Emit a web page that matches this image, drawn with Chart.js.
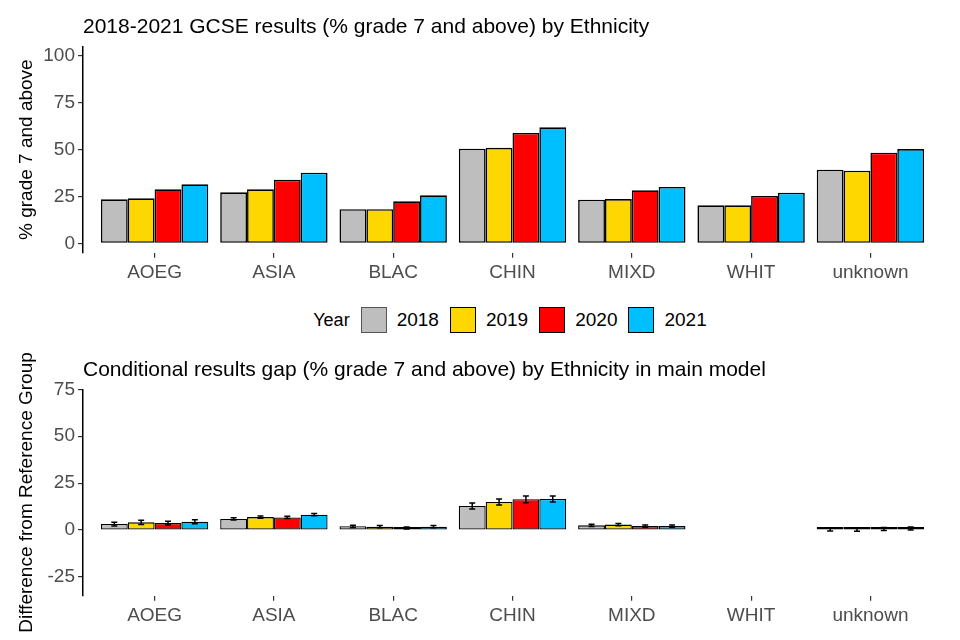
<!DOCTYPE html>
<html>
<head>
<meta charset="utf-8">
<script src="https://cdn.jsdelivr.net/npm/chart.js@4.4.1/dist/chart.umd.min.js"></script>
<style>
    html, body { margin: 0; padding: 0; background: #fff; }
    body { width: 960px; height: 640px; position: relative; overflow: hidden;
           font-family: "Liberation Sans", Arial, Helvetica, sans-serif; }
    #top-chart { position: absolute; left: 0; top: 0; }
    #gap-chart { position: absolute; left: 0; top: 340px; }
    #legend { position: absolute; left: 86px; width: 859px; top: 306px; height: 28px;
              display: flex; justify-content: center; align-items: center; font-size: 19px; color: #000; }
    #legend .title { margin-right: 11px; font-size: 18px; }
    #legend .box { width: 26px; height: 26px; border: 1.5px solid #000; box-sizing: border-box; }
    #legend .label { margin-left: 10px; margin-right: 11px; }
</style>
</head>
<body>
<canvas id="top-chart" width="960" height="300"></canvas>
<div id="legend"></div>
<canvas id="gap-chart" width="960" height="300"></canvas>
<script>
// DATA  -----------------------------------------------------------------------
const ethnicities = ['AOEG', 'ASIA', 'BLAC', 'CHIN', 'MIXD', 'WHIT', 'unknown'];
const years = ['2018', '2019', '2020', '2021'];
const yearColors = ['#BEBEBE', '#FFD700', '#FF0000', '#00BFFF'];

// % grade 7 and above
const results2018 = [23.5, 27.2, 18.2, 50.5, 23.3, 20.3, 39.3];
const results2019 = [24.0, 28.8, 18.2, 51.0, 23.6, 20.3, 38.8];
const results2020 = [28.8, 34.0, 22.4, 58.9, 28.3, 25.3, 48.4];
const results2021 = [31.5, 37.7, 25.6, 61.9, 30.1, 27.0, 50.3];

// conditional gap vs reference group (WHIT)
const gap2018 = [3.2, 5.9, 2.0, 12.8, 2.5, null, 0.3];
const gap2019 = [4.1, 6.9, 1.8, 14.9, 2.9, null, 0.1];
const gap2020 = [3.7, 6.7, 1.1, 16.4, 2.1, null, 0.5];
const gap2021 = [4.4, 8.2, 1.8, 16.5, 2.1, null, 0.8];

// half width of the error bars
const err2018 = [1.0, 0.6, 0.6, 1.6, 0.6, null, 0.8];
const err2019 = [1.1, 0.6, 0.6, 1.6, 0.6, null, 0.8];
const err2020 = [1.0, 0.6, 0.5, 1.8, 0.6, null, 0.8];
const err2021 = [1.1, 0.6, 0.6, 1.6, 0.6, null, 0.8];

const resultTicks = [0, 25, 50, 75, 100];
const gapTicks = [-25, 0, 25, 50, 75];

// CHART SETUP  -----------------------------------------------------------------
const fontFamily = '"Liberation Sans", Arial, Helvetica, sans-serif';
const tickColor = '#4D4D4D';

function buildDatasets(seriesList, errorList) {
    return seriesList.map((series, i) => ({
        label: years[i],
        data: series.map((v, j) => ({ x: j, y: v })),
        errors: errorList ? errorList[i] : null,
        backgroundColor: yearColors[i],
        borderColor: '#000000',
        borderWidth: errorList ? 1.3 : 1.6,
        borderSkipped: false,
        inflateAmount: 0,
        minBarLength: errorList ? 3 : 0,
        categoryPercentage: 0.9,
        barPercentage: 1.0
    }));
}

// Draws the panel title lined up with the left edge of the plot area
const panelTitle = {
    id: 'panelTitle',
    afterDraw(chart, args, opts) {
        const ctx = chart.ctx;
        ctx.save();
        ctx.font = '21px ' + fontFamily;
        ctx.fillStyle = '#000';
        ctx.textBaseline = 'alphabetic';
        ctx.textAlign = 'left';
        ctx.fillText(opts.text, chart.chartArea.left, chart.chartArea.top - 13.8);
        ctx.restore();
    }
};

// Error bars for the gap chart
const errorBars = {
    id: 'errorBars',
    afterDatasetsDraw(chart) {
        const ctx = chart.ctx;
        const yScale = chart.scales.y;
        ctx.save();
        ctx.strokeStyle = '#000';
        ctx.lineWidth = 1.5;
        chart.data.datasets.forEach((ds, i) => {
            if (!ds.errors) return;
            const meta = chart.getDatasetMeta(i);
            meta.data.forEach((bar, j) => {
                const v = ds.data[j].y;
                const e = ds.errors[j];
                if (v === null || e === null) return;
                const yTop = yScale.getPixelForValue(v + e);
                const yBot = yScale.getPixelForValue(v - e);
                ctx.beginPath();
                ctx.moveTo(bar.x, yTop);
                ctx.lineTo(bar.x, yBot);
                ctx.moveTo(bar.x - 3, yTop);
                ctx.lineTo(bar.x + 3, yTop);
                ctx.moveTo(bar.x - 3, yBot);
                ctx.lineTo(bar.x + 3, yBot);
                ctx.stroke();
            });
        });
        ctx.restore();
    }
};

function makeOptions(titleText, yTitle, yMin, yMax, yTickList, topPad, xAxisHeight) {
    return {
        responsive: false,
        animation: false,
        events: [],
        layout: { padding: { top: topPad, right: 18, left: 0, bottom: 0 } },
        scales: {
            x: {
                type: 'linear',
                min: -0.6,
                max: 6.6,
                offset: false,
                afterBuildTicks: s => { s.ticks = ethnicities.map((c, i) => ({ value: i })); },
                afterFit: s => { s.height = xAxisHeight; },
                ticks: {
                    autoSkip: false,
                    maxRotation: 0,
                    padding: 4,
                    color: tickColor,
                    font: { family: fontFamily, size: 19 },
                    callback: v => ethnicities[v]
                },
                grid: {
                    offset: false,
                    drawOnChartArea: false,
                    drawTicks: true,
                    tickLength: 5,
                    color: '#333333',
                    tickColor: '#333333',
                    lineWidth: 1.2
                },
                border: { display: false }
            },
            y: {
                min: yMin,
                max: yMax,
                afterBuildTicks: s => { s.ticks = yTickList.map(v => ({ value: v })); },
                afterFit: s => { s.width = 83; },
                ticks: {
                    padding: 3,
                    color: tickColor,
                    font: { family: fontFamily, size: 19 }
                },
                grid: {
                    drawOnChartArea: false,
                    drawTicks: true,
                    tickLength: 5,
                    color: '#333333',
                    tickColor: '#333333',
                    lineWidth: 1.2
                },
                border: { display: true, color: '#000000', width: 1.5 },
                title: {
                    display: true,
                    text: yTitle,
                    color: '#000',
                    font: { family: fontFamily, size: 19 },
                    padding: { top: 15, bottom: 0 }
                }
            }
        },
        plugins: {
            legend: { display: false },
            tooltip: { enabled: false },
            panelTitle: { text: titleText }
        }
    };
}

new Chart(document.getElementById('top-chart').getContext('2d'), {
    type: 'bar',
    data: { datasets: buildDatasets([results2018, results2019, results2020, results2021]) },
    options: makeOptions('2018-2021 GCSE results (% grade 7 and above) by Ethnicity',
        '% grade 7 and above', -5, 105, resultTicks, 46.6, 300 - 252.7),
    plugins: [panelTitle]
});

new Chart(document.getElementById('gap-chart').getContext('2d'), {
    type: 'bar',
    data: { datasets: buildDatasets([gap2018, gap2019, gap2020, gap2021], [err2018, err2019, err2020, err2021]) },
    options: makeOptions('Conditional results gap (% grade 7 and above) by Ethnicity in main model',
        'Difference from Reference Group', -35, 75, gapTicks, 389.3 - 340, 300 - (595.7 - 340)),
    plugins: [panelTitle, errorBars]
});

// LEGEND  ----------------------------------------------------------------------
const legend = document.getElementById('legend');
const legendTitle = document.createElement('span');
legendTitle.className = 'title';
legendTitle.textContent = 'Year';
legend.appendChild(legendTitle);
years.forEach((year, i) => {
    const box = document.createElement('span');
    box.className = 'box';
    box.style.background = yearColors[i];
    if (i === 0) box.style.borderColor = '#555';
    const label = document.createElement('span');
    label.className = 'label';
    label.textContent = year;
    legend.appendChild(box);
    legend.appendChild(label);
});
</script>
</body>
</html>
